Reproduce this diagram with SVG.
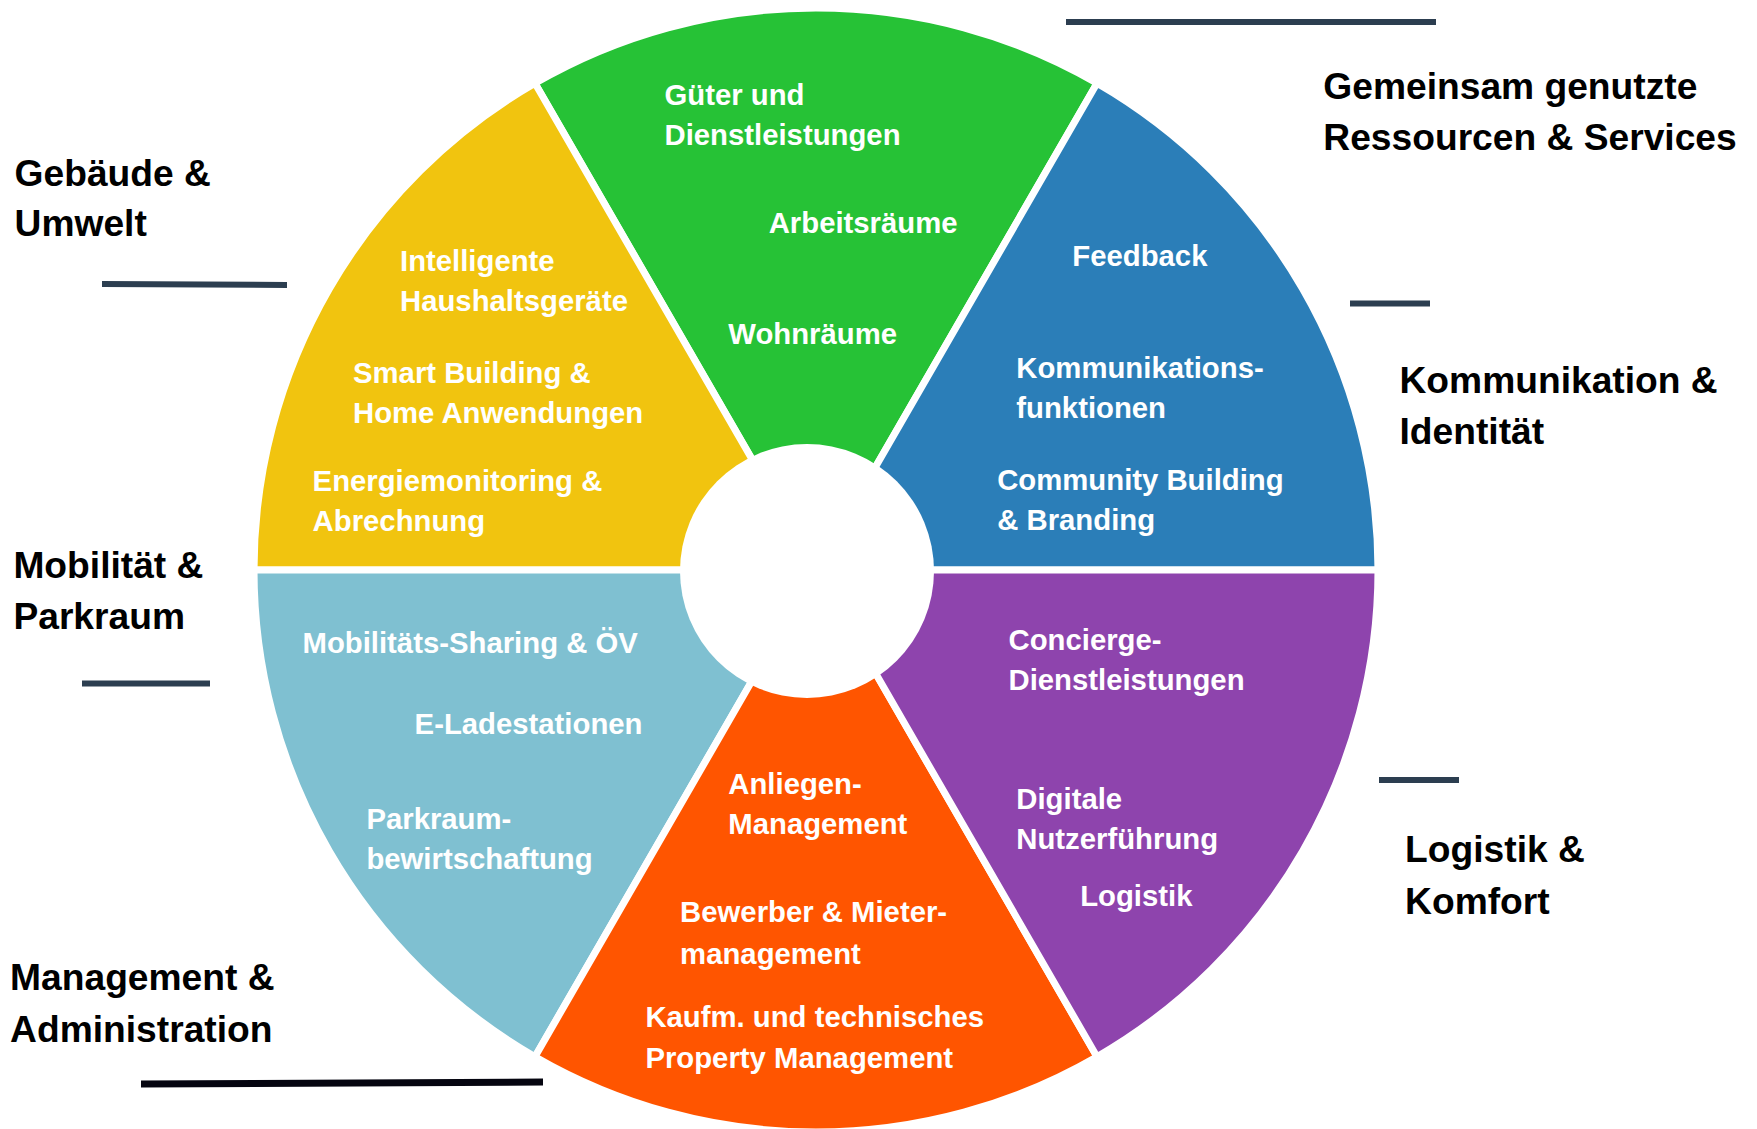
<svg xmlns="http://www.w3.org/2000/svg" width="1757" height="1129" viewBox="0 0 1757 1129">
<style>
.seg{stroke:#fff;stroke-width:7;stroke-linejoin:miter}
.in{font-family:"Liberation Sans",Arial,sans-serif;font-weight:bold;font-size:29.3px;fill:#fff}
.out{font-family:"Liberation Sans",Arial,sans-serif;font-weight:bold;font-size:37.2px;fill:#000}
.rule{stroke:#2C3E50;stroke-width:6}
</style>
<rect width="1757" height="1129" fill="#fff"/>
<g id="seg-gemeinsam">
<path class="seg" fill="#26C236" d="M816,570 L1097,83.3 A562,562 0 0 0 535,83.3 Z"/>
<text class="in" x="664.5" y="105">Güter und</text>
<text class="in" x="664.5" y="145">Dienstleistungen</text>
<text class="in" x="768.7" y="233">Arbeitsräume</text>
<text class="in" x="728.3" y="344">Wohnräume</text>
</g>
<g id="seg-gebaeude">
<path class="seg" fill="#F1C40F" d="M816,570 L535,83.3 A562,562 0 0 0 254,570 Z"/>
<text class="in" x="400" y="271">Intelligente</text>
<text class="in" x="400" y="311">Haushaltsgeräte</text>
<text class="in" x="353" y="383">Smart Building &amp;</text>
<text class="in" x="353" y="423">Home Anwendungen</text>
<text class="in" x="312.6" y="491">Energiemonitoring &amp;</text>
<text class="in" x="312.6" y="531">Abrechnung</text>
</g>
<g id="seg-kommunikation">
<path class="seg" fill="#2B7EB8" d="M816,570 L1378,570 A562,562 0 0 0 1097,83.3 Z"/>
<text class="in" x="1072.3" y="265.5">Feedback</text>
<text class="in" x="1016.3" y="377.5">Kommunikations-</text>
<text class="in" x="1016.3" y="418">funktionen</text>
<text class="in" x="997.2" y="489.6">Community Building</text>
<text class="in" x="997.2" y="530">&amp; Branding</text>
</g>
<g id="seg-mobilitaet">
<path class="seg" fill="#7FC0D1" d="M816,570 L254,570 A562,562 0 0 0 535,1056.7 Z"/>
<text class="in" x="302.5" y="653">Mobilitäts-Sharing &amp; ÖV</text>
<text class="in" x="414.6" y="734">E-Ladestationen</text>
<text class="in" x="366.4" y="829">Parkraum-</text>
<text class="in" x="366.4" y="869.4">bewirtschaftung</text>
</g>
<g id="seg-management">
<path class="seg" fill="#FF5500" d="M816,570 L535,1056.7 A562,562 0 0 0 1097,1056.7 Z"/>
<text class="in" x="728.3" y="794.4">Anliegen-</text>
<text class="in" x="728.3" y="833.6">Management</text>
<text class="in" x="680.1" y="922">Bewerber &amp; Mieter-</text>
<text class="in" x="680.1" y="963.5">management</text>
<text class="in" x="645.4" y="1027">Kaufm. und technisches</text>
<text class="in" x="645.4" y="1068">Property Management</text>
</g>
<g id="seg-logistik">
<path class="seg" fill="#8E44AD" d="M816,570 L1097,1056.7 A562,562 0 0 0 1378,570 Z"/>
<text class="in" x="1008.5" y="649.8">Concierge-</text>
<text class="in" x="1008.5" y="690">Dienstleistungen</text>
<text class="in" x="1016.3" y="809">Digitale</text>
<text class="in" x="1016.3" y="849.3">Nutzerführung</text>
<text class="in" x="1080.2" y="906.4">Logistik</text>
</g>
<circle id="hub" cx="807" cy="571" r="127" fill="#fff"/>
<g id="labels">
<g id="label-gemeinsam"><text class="out" x="1323.3" y="99.3">Gemeinsam genutzte</text><text class="out" x="1323.3" y="149.7">Ressourcen &amp; Services</text></g>
<g id="label-gebaeude"><text class="out" x="14.6" y="185.6">Gebäude &amp;</text><text class="out" x="14.6" y="236">Umwelt</text></g>
<g id="label-kommunikation"><text class="out" x="1399.5" y="393">Kommunikation &amp;</text><text class="out" x="1399.5" y="444.4">Identität</text></g>
<g id="label-mobilitaet"><text class="out" x="13.4" y="577.7">Mobilität &amp;</text><text class="out" x="13.4" y="629.3">Parkraum</text></g>
<g id="label-logistik"><text class="out" x="1405.1" y="862.3">Logistik &amp;</text><text class="out" x="1405.1" y="914">Komfort</text></g>
<g id="label-management"><text class="out" x="10.1" y="990">Management &amp;</text><text class="out" x="10.1" y="1041.6">Administration</text></g>
</g>
<g id="connectors">
<line class="rule" x1="1066" y1="22" x2="1436" y2="22"/>
<line class="rule" x1="102" y1="284" x2="287" y2="285"/>
<line class="rule" x1="1350" y1="303.5" x2="1430" y2="303.5"/>
<line class="rule" x1="82" y1="683.5" x2="210" y2="683.5"/>
<line class="rule" x1="1379" y1="780" x2="1459" y2="780"/>
<line x1="141" y1="1084" x2="543" y2="1082" stroke="#050510" stroke-width="7"/>
</g>
</svg>
